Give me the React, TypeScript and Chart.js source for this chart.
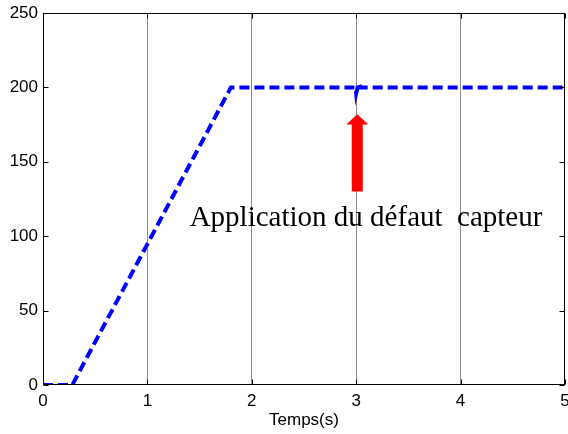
import React, { useEffect, useRef } from "react";
import { Chart, registerables } from "chart.js";

Chart.register(...registerables);

// Data
const timeS = [0, 0.28, 1.8, 2.995, 3.0, 3.01, 3.025, 3.04, 5];
const speed = [0, 0, 200, 200, 196, 199, 203, 200, 200];
const xTicks = [0, 1, 2, 3, 4, 5];
const yTicks = [0, 50, 100, 150, 200, 250];
const xTitle = "Temps(s)";
const annotationText = "Application du défaut  capteur";
const annotationPos = [1.405, 107];
const arrowX = 3.01;
const arrowTail = 130;
const arrowHeadBase = 175;
const arrowTip = 182;

const framePlugin = {
  id: "matlabFrame",
  afterDatasetsDraw(chart: any) {
    const { ctx, chartArea, scales } = chart;
    const xs = scales.x;
    const ys = scales.y;
    ctx.save();
    // annotation text
    ctx.fillStyle = "#000";
    ctx.font = "29px 'Liberation Serif', 'Times New Roman', serif";
    ctx.textAlign = "left";
    ctx.textBaseline = "alphabetic";
    ctx.fillText(annotationText, xs.getPixelForValue(annotationPos[0]), ys.getPixelForValue(annotationPos[1]));
    // arrow
    const cx = xs.getPixelForValue(arrowX);
    const yTail = ys.getPixelForValue(arrowTail);
    const yBase = ys.getPixelForValue(arrowHeadBase);
    const yTip = ys.getPixelForValue(arrowTip);
    ctx.fillStyle = "#ff0000";
    ctx.beginPath();
    ctx.moveTo(cx - 5.5, yTail);
    ctx.lineTo(cx + 5.5, yTail);
    ctx.lineTo(cx + 5.5, yBase);
    ctx.lineTo(cx + 11, yBase);
    ctx.lineTo(cx, yTip);
    ctx.lineTo(cx - 11, yBase);
    ctx.lineTo(cx - 5.5, yBase);
    ctx.closePath();
    ctx.fill();
    // frame
    ctx.strokeStyle = "#000";
    ctx.lineWidth = 1;
    const l = Math.round(chartArea.left) + 0.5;
    const r = Math.round(chartArea.right) - 0.5;
    const t = Math.round(chartArea.top) + 0.5;
    const b = Math.round(chartArea.bottom) - 0.5;
    ctx.strokeRect(l, t, r - l, b - t);
    // inward ticks
    const tl = 5;
    ctx.beginPath();
    xTicks.forEach((v) => {
      const px = Math.round(xs.getPixelForValue(v)) + 0.5;
      ctx.moveTo(px, b);
      ctx.lineTo(px, b - tl);
      ctx.moveTo(px, t);
      ctx.lineTo(px, t + tl);
    });
    yTicks.forEach((v) => {
      const py = Math.round(ys.getPixelForValue(v)) + 0.5;
      ctx.moveTo(l, py);
      ctx.lineTo(l + tl, py);
      ctx.moveTo(r, py);
      ctx.lineTo(r - tl, py);
    });
    ctx.stroke();
    ctx.restore();
  },
};

export default function App() {
  const ref = useRef<HTMLCanvasElement>(null);
  useEffect(() => {
    const canvas = ref.current!;
    const chart = new Chart(canvas, {
      type: "line",
      data: {
        datasets: [
          {
            data: timeS.map((t, i) => ({ x: t, y: speed[i] })),
            borderColor: "#0000ff",
            borderWidth: 4,
            borderDash: [10, 5],
            pointRadius: 0,
            fill: false,
            tension: 0,
          },
        ],
      },
      options: {
        animation: false,
        responsive: false,
        devicePixelRatio: 1,
        layout: { padding: { top: 13, right: 3, left: 0, bottom: 0 } },
        plugins: { legend: { display: false }, tooltip: { enabled: false } },
        scales: {
          x: {
            type: "linear",
            min: 0,
            max: 5,
            afterBuildTicks: (s: any) => {
              s.ticks = xTicks.map((v) => ({ value: v }));
            },
            afterFit: (s: any) => {
              s.height = 49;
              s.paddingLeft = 0;
              s.paddingRight = 0;
            },
            grid: {
              color: (c: any) => (c.tick && (c.tick.value === 0 || c.tick.value === 5) ? "rgba(0,0,0,0)" : "#8c8c8c"),
              lineWidth: 1,
              drawTicks: false,
            },
            border: { display: false },
            ticks: {
              color: "#000",
              padding: 6,
              maxRotation: 0,
              font: { family: "'Liberation Sans', Arial, sans-serif", size: 17 },
            },
            title: {
              display: true,
              text: xTitle,
              color: "#000",
              padding: { top: 0, bottom: 3 },
              font: { family: "'Liberation Sans', Arial, sans-serif", size: 17 },
            },
          },
          y: {
            type: "linear",
            min: 0,
            max: 250,
            afterBuildTicks: (s: any) => {
              s.ticks = yTicks.map((v) => ({ value: v }));
            },
            afterFit: (s: any) => {
              s.width = 43;
              s.paddingTop = 0;
              s.paddingBottom = 0;
            },
            grid: { display: false, drawTicks: false },
            border: { display: false },
            ticks: {
              color: "#000",
              padding: 5,
              font: { family: "'Liberation Sans', Arial, sans-serif", size: 17 },
            },
          },
        },
      },
      plugins: [framePlugin],
    });
    return () => chart.destroy();
  }, []);
  return (
    <div style={{ position: "fixed", left: 0, top: 0, width: 568, height: 434, background: "#fff" }}>
      <canvas ref={ref} width={568} height={434} style={{ display: "block" }} />
    </div>
  );
}
